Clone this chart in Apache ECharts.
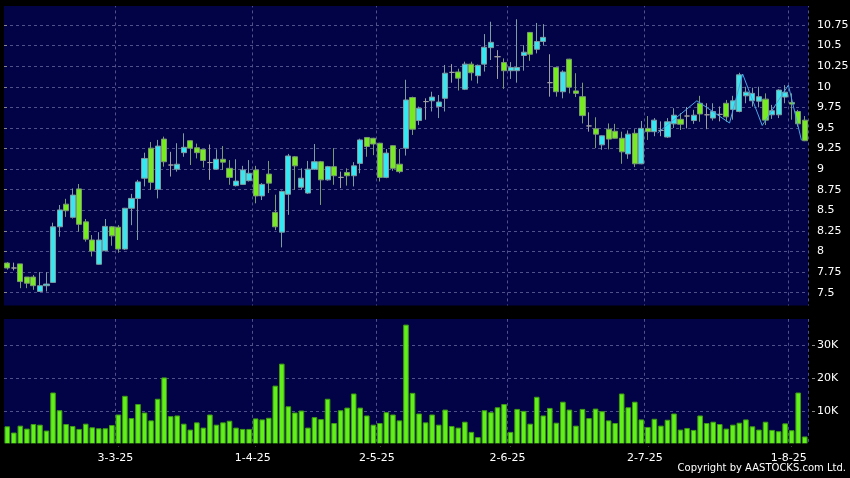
<!DOCTYPE html>
<html><head><meta charset="utf-8">
<script src="https://cdn.jsdelivr.net/npm/echarts@6/dist/echarts.min.js"></script>
<style>html,body{margin:0;padding:0;background:#000;}#c{width:850px;height:478px;}</style>
</head><body><div id="c"></div>
<script>
// trading days per month (2025)
const feb = [6,7,10,11,12,13,14,17,18,19,20,21,24,25,26,27,28];
const mar = [3,4,5,6,7,10,11,12,13,14,17,18,19,20,21,24,25,26,27,28,31];
const apr = [1,2,3,7,8,9,10,11,14,15,16,17,22,23,24,25,28,29,30];
const may = [2,6,7,8,9,12,13,14,15,16,19,20,21,22,23,26,27,28,29,30];
const jun = [2,3,4,5,6,9,10,11,12,13,16,17,18,19,20,23,24,25,26,27,30];
const jul = [2,3,4,7,8,9,10,11,14,15,16,17,18,21,22,23,24,25,28,29,30,31];
const aug = [1,4,5];
const categories = [].concat(
  feb.map(d => d + '-2-25'), mar.map(d => d + '-3-25'), apr.map(d => d + '-4-25'),
  may.map(d => d + '-5-25'), jun.map(d => d + '-6-25'), jul.map(d => d + '-7-25'),
  aug.map(d => d + '-8-25'));
const xTickLabels = ['3-3-25','1-4-25','2-5-25','2-6-25','2-7-25','1-8-25'];
const priceTicks = [7.5,7.75,8,8.25,8.5,8.75,9,9.25,9.5,9.75,10,10.25,10.5,10.75];
const volTicks = ['10K','20K','30K'];

const opens = [7.86,7.80,7.85,7.69,7.69,7.515,7.585,7.625,8.30,8.575,
8.415,8.76,8.36,8.14,7.845,8.01,8.30,8.295,8.03,8.525,
8.645,8.89,9.255,8.755,9.365,9.05,9.0,9.20,9.345,9.26,
9.24,9.08,9.0,9.12,9.01,8.80,8.815,8.86,8.99,8.675,
8.94,8.475,8.235,8.695,9.15,8.78,8.71,9.0,9.09,8.87,
9.03,8.90,8.96,8.92,9.07,9.385,9.375,9.315,8.90,9.285,
9.06,9.255,9.87,9.59,9.82,9.83,9.76,9.86,10.175,10.18,
9.97,10.275,10.135,10.275,10.475,10.365,10.295,10.195,10.195,10.38,
10.66,10.455,10.55,10.05,10.235,9.94,10.335,9.95,9.88,9.525,
9.49,9.295,9.485,9.46,9.375,9.185,9.435,9.065,9.495,9.455,
9.47,9.39,9.55,9.605,9.645,9.59,9.80,9.66,9.62,9.665,
9.80,9.725,9.70,9.89,9.83,9.825,9.85,9.66,9.66,9.875,
9.81,9.70,9.595];
const closes = [7.80,7.80,7.635,7.615,7.585,7.585,7.605,8.30,8.505,8.495,
8.685,8.33,8.15,8.005,8.14,8.305,8.19,8.03,8.525,8.645,
8.845,9.13,8.84,9.28,9.09,9.05,9.06,9.265,9.255,9.20,
9.105,9.08,9.12,9.085,8.90,8.855,8.99,8.95,8.675,8.815,
8.83,8.30,8.73,9.16,9.04,8.89,9.0,9.09,8.87,9.03,
8.92,8.90,8.92,9.04,9.355,9.275,9.305,8.90,9.195,9.01,
8.97,9.84,9.485,9.74,9.82,9.875,9.815,10.165,10.175,10.105,
10.275,10.17,10.26,10.48,10.54,10.365,10.195,10.235,10.235,10.42,
10.395,10.55,10.60,10.05,9.94,10.18,9.995,9.92,9.65,9.525,
9.425,9.405,9.365,9.375,9.21,9.425,9.065,9.495,9.455,9.595,
9.47,9.575,9.655,9.545,9.645,9.655,9.67,9.66,9.70,9.665,
9.635,9.83,10.145,9.935,9.92,9.88,9.595,9.71,9.96,9.935,
9.79,9.55,9.345];
const lows = [7.78,7.77,7.555,7.555,7.535,7.51,7.515,7.62,8.18,8.42,
8.40,8.24,8.12,7.94,7.84,8.0,8.07,7.985,8.02,8.32,
8.14,8.79,8.75,8.645,9.03,8.91,8.97,9.15,9.05,9.13,
9.02,8.87,8.99,8.99,8.81,8.79,8.81,8.85,8.585,8.625,
8.71,8.26,8.05,8.445,8.75,8.75,8.70,8.99,8.565,8.86,
8.81,8.77,8.80,8.79,8.95,9.15,9.17,8.85,8.89,8.98,
8.95,9.165,9.415,9.535,9.60,9.70,9.62,9.70,10.05,9.955,
9.96,10.075,10.04,10.185,10.325,10.095,9.975,10.095,10.05,10.195,
10.315,10.405,10.50,9.88,9.88,9.86,9.92,9.875,9.555,9.455,
9.255,9.235,9.24,9.37,9.065,9.125,9.025,9.06,9.355,9.40,
9.40,9.38,9.50,9.475,9.495,9.55,9.575,9.485,9.59,9.58,
9.575,9.60,9.69,9.80,9.76,9.75,9.535,9.61,9.62,9.80,
9.60,9.515,9.34];
const highs = [7.87,7.865,7.85,7.69,7.715,7.75,7.75,8.35,8.565,8.64,
8.765,8.82,8.395,8.20,8.235,8.395,8.31,8.32,8.53,8.70,
8.87,9.20,9.33,9.355,9.395,9.21,9.315,9.435,9.35,9.31,
9.245,9.30,9.24,9.28,9.11,9.12,9.04,9.11,9.04,8.83,
9.10,8.69,8.74,9.185,9.16,9.01,9.10,9.305,9.10,9.04,
9.255,8.97,9.01,9.085,9.37,9.39,9.38,9.32,9.245,9.29,
9.245,10.085,9.88,9.76,9.86,9.94,9.90,10.265,10.275,10.22,
10.305,10.305,10.27,10.64,10.79,10.445,10.345,10.30,10.82,10.505,
10.665,10.775,10.76,10.395,10.24,10.20,10.34,10.165,10.05,9.69,
9.63,9.41,9.555,9.55,9.455,9.47,9.485,9.585,9.645,9.62,
9.58,9.62,9.74,9.68,9.755,9.72,9.89,9.80,9.80,9.76,
9.84,9.89,10.17,10.0,9.99,10.0,9.92,9.78,9.97,10.02,
9.92,9.72,9.645];
const volumes = [5.4,3.5,5.6,4.7,6.1,5.9,4.1,15.7,10.3,6.1,
5.5,4.6,6.2,5.1,4.8,4.8,5.8,9.0,14.7,7.9,
12.2,9.6,7.2,13.8,20.3,8.5,8.7,6.2,4.4,6.6,
5.0,9.0,5.9,6.6,7.1,5.0,4.6,4.6,7.8,7.5,
8.0,17.8,24.5,11.5,9.6,10.2,5.0,8.2,7.6,13.8,
6.4,10.3,11.1,15.4,11.1,8.7,5.9,6.4,9.7,9.0,
7.2,36.4,15.6,9.3,6.6,9.0,5.9,10.5,5.5,5.0,
6.8,3.7,2.1,10.3,9.7,11.2,12.2,3.7,10.7,10.1,
6.2,14.4,8.7,11.0,6.5,12.9,10.5,5.6,10.7,7.9,
10.8,10.0,7.2,6.4,15.4,11.2,12.9,7.5,5.2,7.7,
5.6,7.4,9.3,4.4,4.9,4.3,8.7,6.4,6.8,6.1,
4.7,5.9,6.5,7.5,5.4,4.4,6.8,4.3,3.9,6.3,
4.2,15.7,2.3].map(v => v * 1000);
// zigzag line: bar-boundary positions and values
const zigzagPos = [100,106,111,113,116,120,122];
const zigzagVal = [9.44,9.83,9.56,10.155,9.53,10.02,9.35];

const candleData = opens.map((o, i) => [o, closes[i], lows[i], highs[i]]);
const zigzagData = zigzagPos.map((p, i) => [p, zigzagVal[i]]);
const labelSet = new Set(xTickLabels);
const showIdx = (idx, val) => labelSet.has(categories[idx]);

const FONT = '"DejaVu Sans", Verdana, sans-serif';
const gridLine = { show: true, lineStyle: { color: '#50508a', type: [3, 3], width: 1 } };
const vSplit = { show: true, interval: showIdx, lineStyle: { color: '#50508a', type: [3, 3], width: 1 } };

const chart = echarts.init(document.getElementById('c'), null, { renderer: 'canvas' });
chart.setOption({
  animation: false,
  backgroundColor: '#000000',
  grid: [
    { left: 4, right: 42, top: 4.41, bottom: 164.7, show: true, backgroundColor: '#020246', borderWidth: 0, containLabel: false, outerBoundsMode: 'none' },
    { left: 4, right: 42, top: 312.8, bottom: 34, show: true, backgroundColor: '#020246', borderWidth: 0, containLabel: false, outerBoundsMode: 'none' }
  ],
  xAxis: [
    { type: 'category', gridIndex: 0, data: categories, boundaryGap: true,
      axisLine: { show: false }, axisTick: { show: false }, axisLabel: { show: false },
      splitLine: vSplit },
    { type: 'value', gridIndex: 0, min: 0, max: categories.length, show: false, splitLine: { show: false } },
    { type: 'category', gridIndex: 1, data: categories, boundaryGap: true, offset: 3,
      axisLine: { show: false },
      axisTick: { show: true, interval: showIdx, alignWithLabel: true, length: 3, lineStyle: { color: '#777777' } },
      axisLabel: { show: true, interval: showIdx, color: '#ffffff', fontFamily: FONT, fontSize: 11, margin: 6, padding: [0, 6, 0, 0] },
      splitLine: vSplit }
  ],
  yAxis: [
    { type: 'value', gridIndex: 0, position: 'right', min: 7.25, max: 11, interval: 0.25, offset: 4,
      axisLine: { show: false },
      axisTick: { show: true, length: 3, lineStyle: { color: '#888888' } },
      axisLabel: { color: '#ffffff', fontFamily: FONT, fontSize: 11, margin: 5, showMinLabel: false, showMaxLabel: false,
        formatter: v => (priceTicks.indexOf(Math.round(v * 100) / 100) >= 0 ? String(Math.round(v * 100) / 100) : '') },
      splitLine: gridLine },
    { type: 'value', gridIndex: 1, position: 'right', min: 0, max: 40000, interval: 10000, offset: 4,
      axisLine: { show: false },
      axisTick: { show: true, length: 3, lineStyle: { color: '#888888' } },
      axisLabel: { color: '#ffffff', fontFamily: FONT, fontSize: 11, margin: 5, showMinLabel: false, showMaxLabel: false,
        formatter: v => { const s = (v / 1000) + 'K'; return volTicks.indexOf(s) >= 0 ? s : ''; } },
      splitLine: gridLine }
  ],
  series: [
    { type: 'candlestick', xAxisIndex: 0, yAxisIndex: 0, data: candleData, barWidth: 5.6,
      itemStyle: { color: '#36e6f0', color0: '#76ec20', borderColor: '#7d9ca0', borderColor0: '#7a9a70',
        borderColorDoji: '#a0a0a0', borderWidth: 1 } },
    { type: 'line', xAxisIndex: 1, yAxisIndex: 0, data: zigzagData, symbol: 'none', z: 5,
      lineStyle: { color: '#4aa6e6', width: 1 } },
    { type: 'bar', xAxisIndex: 2, yAxisIndex: 1, data: volumes, barWidth: 5.6,
      itemStyle: { color: '#62f01a', borderColor: '#3d9a12', borderWidth: 1 } }
  ],
  graphic: [
    { type: 'rect', shape: { x: 0, y: 0, width: 850, height: 6 }, style: { fill: '#000000' }, z: 100, silent: true },
    { type: 'rect', shape: { x: 0, y: 305.5, width: 850, height: 13.5 }, style: { fill: '#000000' }, z: 100, silent: true },
    { type: 'rect', shape: { x: 0, y: 443.6, width: 810, height: 3 }, style: { fill: '#000000' }, z: 100, silent: true },
    { type: 'text', right: 4, top: 463, z: 100, style: { text: 'Copyright by AASTOCKS.com Ltd.', fill: '#ffffff', font: '10px ' + FONT } }
  ]
});
</script></body></html>
